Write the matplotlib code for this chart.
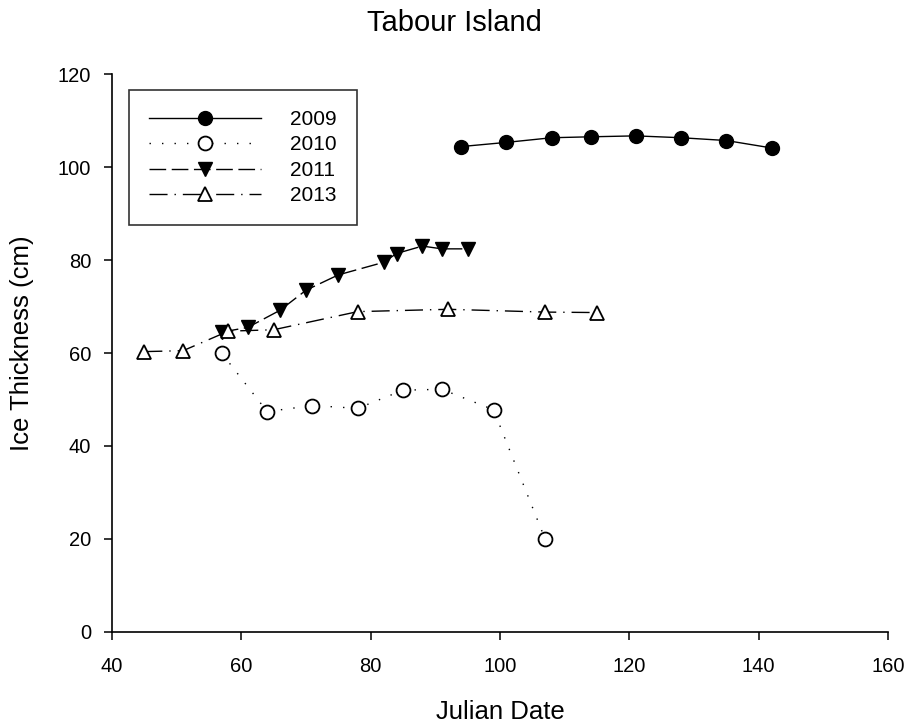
import matplotlib
matplotlib.use("Agg")
import matplotlib.pyplot as plt

plt.rcParams['font.family'] = ['Liberation Sans', 'DejaVu Sans']

x2009 = [94, 101, 108, 114, 121, 128, 135, 142]
y2009 = [104.4, 105.3, 106.3, 106.5, 106.7, 106.3, 105.7, 104.1]

x2010 = [57, 64, 71, 78, 85, 91, 99, 107]
y2010 = [59.9, 47.4, 48.7, 48.1, 52.0, 52.2, 47.8, 19.9]

x2011 = [57, 61, 66, 70, 75, 82, 84, 88, 91, 95]
y2011 = [64.5, 65.5, 69.2, 73.5, 76.8, 79.5, 81.4, 83.0, 82.4, 82.4]

x2013 = [45, 51, 58, 65, 78, 92, 107, 115]
y2013 = [60.3, 60.5, 64.7, 65.0, 68.9, 69.4, 68.8, 68.7]

xticks = [40, 60, 80, 100, 120, 140, 160]
yticks = [0, 20, 40, 60, 80, 100, 120]

fig = plt.figure(figsize=(9.08, 7.23), dpi=100)
ax = fig.add_axes([0.1233, 0.1259, 0.978 - 0.1233, 0.8976 - 0.1259])

lw = 1.0
ax.plot(x2009, y2009, color='black', lw=lw, linestyle='-', marker='o', ms=10,
        mfc='black', mec='black', label='2009')
ax.plot(x2010, y2010, color='black', lw=lw, linestyle=(0, (1, 8)), marker='o', ms=10,
        mfc='white', mec='black', mew=1.3, label='2010')
ax.plot(x2011, y2011, color='black', lw=lw, linestyle=(0, (12, 4)), marker='v', ms=10,
        mfc='black', mec='black', label='2011')
ax.plot(x2013, y2013, color='black', lw=lw, linestyle=(0, (13, 5, 1, 5)), marker='^', ms=10,
        mfc='white', mec='black', mew=1.3, label='2013')

ax.set_xlim(40, 160)
ax.set_ylim(0, 120)
ax.set_xticks(xticks)
ax.set_yticks(yticks)
ax.spines['top'].set_visible(False)
ax.spines['right'].set_visible(False)
for s in ['left', 'bottom']:
    ax.spines[s].set_linewidth(1.2)
ax.tick_params(direction='out', length=6, width=1.1, labelsize=14.5)
ax.tick_params(axis='x', pad=12)
ax.tick_params(axis='y', pad=9)

ax.set_xlabel('Julian Date', fontsize=18.5, labelpad=17.5)
ax.set_ylabel('Ice Thickness (cm)', fontsize=18.5)
ax.yaxis.set_label_coords(-0.1, 0.518)
fig.suptitle('Tabour Island', fontsize=21, y=0.988)

leg = ax.legend(loc='upper left', bbox_to_anchor=(0.022, 0.971), fontsize=15,
                handlelength=5.4, handletextpad=1.4,
                frameon=True, fancybox=False,
                borderpad=0.95, labelspacing=0.31, borderaxespad=0)
leg.get_frame().set_edgecolor('black')
leg.get_frame().set_linewidth(1.2)

fig.savefig('out.png', dpi=100)
